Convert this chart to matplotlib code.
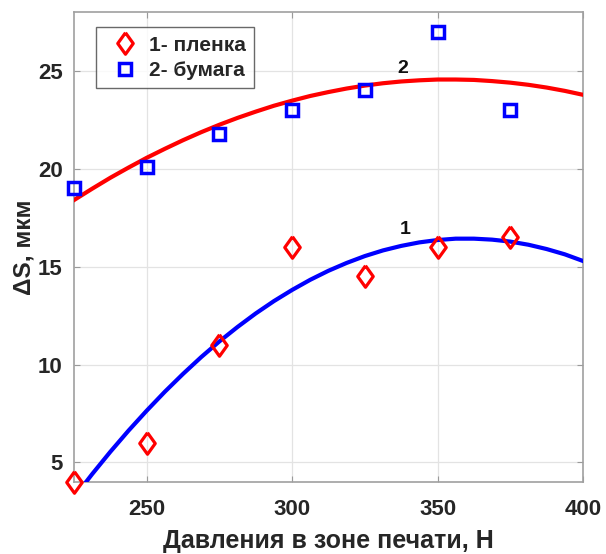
import matplotlib
matplotlib.use("Agg")
import matplotlib.pyplot as plt
from matplotlib.lines import Line2D

plt.rcParams['font.family'] = ['Liberation Sans', 'DejaVu Sans']

# measured points
x_pts = [225, 250, 275, 300, 325, 350, 375]
film = [4.0, 6.0, 11.0, 16.0, 14.5, 16.0, 16.5]       # 1- пленка
paper = [19.0, 20.1, 21.8, 23.0, 24.0, 27.0, 23.0]    # 2- бумага

# trend curves
x_curve = [225, 231.25, 237.5, 243.75, 250, 256.25, 262.5, 268.75, 275, 281.25,
           287.5, 293.75, 300, 306.25, 312.5, 318.75, 325, 331.25, 337.5, 343.75,
           350, 356.25, 362.5, 368.75, 375, 381.25, 387.5, 393.75, 400]
curve1 = [3.20, 4.40, 5.54, 6.62, 7.64, 8.61, 9.52, 10.38, 11.18, 11.92,
          12.61, 13.24, 13.81, 14.33, 14.79, 15.19, 15.54, 15.83, 16.06, 16.24,
          16.36, 16.43, 16.43, 16.38, 16.28, 16.12, 15.90, 15.63, 15.29]
curve2 = [18.40, 18.98, 19.54, 20.06, 20.56, 21.02, 21.46, 21.87, 22.25, 22.60,
          22.92, 23.22, 23.48, 23.72, 23.92, 24.10, 24.25, 24.37, 24.46, 24.52,
          24.56, 24.56, 24.54, 24.48, 24.40, 24.29, 24.15, 23.98, 23.78]

xticks = [250, 300, 350, 400]
yticks = [5, 10, 15, 20, 25]

diamond = [(0, 1), (0.72, 0), (0, -1), (-0.72, 0), (0, 1)]

fig = plt.figure(figsize=(6.06, 5.54), dpi=100)
ax = fig.add_axes([0.122, 0.130, 0.840, 0.848])

ax.plot(x_curve, curve2, color='#ff0000', lw=3.0, zorder=3, solid_joinstyle='round')
ax.plot(x_curve, curve1, color='#0000ff', lw=3.0, zorder=3, solid_joinstyle='round')
ax.plot(x_pts, film, linestyle='none', marker=diamond, markersize=15.5,
        markerfacecolor='none', markeredgecolor='#ff0000', markeredgewidth=2.3,
        zorder=4, clip_on=False)
ax.plot(x_pts, paper, linestyle='none', marker='s', markersize=8.5,
        markerfacecolor='none', markeredgecolor='#0000ff', markeredgewidth=2.5,
        zorder=4, clip_on=False)

ax.text(338, 25.1, '2', fontsize=14, fontweight='bold', ha='center', va='center', color='#111111')
ax.text(339, 16.9, '1', fontsize=14, fontweight='bold', ha='center', va='center', color='#111111')

ax.set_xlim(225, 400)
ax.set_ylim(4, 28)
ax.set_xticks(xticks)
ax.set_yticks(yticks)
ax.set_xticklabels([str(v) for v in xticks], fontsize=16, fontweight='bold', color='#262626')
ax.set_yticklabels([str(v) for v in yticks], fontsize=16, fontweight='bold', color='#262626')
ax.tick_params(axis='x', direction='in', length=4, width=0.8, color='#9a9a9a', pad=12, top=True)
ax.tick_params(axis='y', direction='in', length=4, width=0.8, color='#9a9a9a', pad=8, right=True)
ax.grid(True, color='#e3e3e3', lw=0.9)
ax.set_axisbelow(True)
for s in ax.spines.values():
    s.set_color('#a0a0a0')
    s.set_linewidth(1.2)

ax.set_xlabel('Давления в зоне печати, Н', fontsize=18, fontweight='bold', color='#262626', labelpad=7)
ax.set_ylabel('ΔS, мкм', fontsize=17.5, fontweight='bold', color='#262626', labelpad=2)

handles = [
    Line2D([], [], linestyle='none', marker=diamond, markersize=15.5, markerfacecolor='none',
           markeredgecolor='#ff0000', markeredgewidth=2.3),
    Line2D([], [], linestyle='none', marker='s', markersize=8.5, markerfacecolor='none',
           markeredgecolor='#0000ff', markeredgewidth=2.5),
]
leg = ax.legend(handles, ['1- пленка', '2- бумага'], loc='upper left',
                bbox_to_anchor=(0.043, 0.968), prop={'weight': 'bold', 'size': 15},
                frameon=True, fancybox=False, borderaxespad=0, handletextpad=0.15,
                handlelength=2.0, labelspacing=0.3, borderpad=0.4)
leg.get_frame().set_edgecolor('#444444')
leg.get_frame().set_linewidth(1.0)
for t in leg.get_texts():
    t.set_color('#262626')

fig.savefig('out.png', dpi=100)
